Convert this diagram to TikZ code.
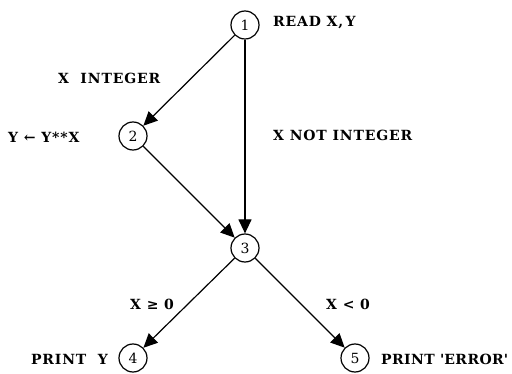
\documentclass[tikz,border=0pt]{standalone}
\usepackage{fontspec}
\setmainfont{DejaVu Serif}
\newfontfamily\labelfont{DejaVu Serif}[LetterSpace=6]
\newfontfamily\edgelabelfont{DejaVu Serif}[LetterSpace=3]
\usetikzlibrary{arrows.meta}
\begin{document}
\begin{tikzpicture}[x=1pt,y=-1pt,
  state/.style={circle,draw,line width=1.2pt,minimum size=28pt,inner sep=0pt,font=\fontsize{14}{14}\selectfont},
  lbl/.style={font=\labelfont\bfseries\fontsize{14}{14}\selectfont,inner sep=0pt},
  flow/.style={line width=1.2pt,-{Triangle[length=14pt,width=13pt]}}]
\useasboundingbox (0,0) rectangle (512,374);
\node[state] (n1) at (245,25) {1};
\node[state] (n2) at (133,136) {2};
\node[state] (n3) at (245,248) {3};
\node[state] (n4) at (133,358) {4};
\node[state] (n5) at (355,358) {5};
\node[lbl,anchor=west] (t1) at (273,23) {READ X,\,Y};
\node[lbl,anchor=west] (t2) at (58,78) {X\ \ INTEGER};
\node[lbl,anchor=west] (t3) at (8,137) {Y ← Y**X};
\node[lbl,anchor=west] (t4) at (273,135) {X\ NOT INTEGER};
\node[lbl,anchor=west] (t5) at (130,304) {X ≥ 0};
\node[lbl,anchor=west] (t6) at (326,304) {X < 0};
\node[lbl,anchor=east] (t7) at (108,359) {PRINT\ \ Y};
\node[lbl,anchor=west,font=\edgelabelfont\bfseries\fontsize{14}{14}\selectfont] (t8) at (381,359) {PRINT \textquotesingle ERROR\textquotesingle};
\draw[flow] (n1) -- (n2);
\draw[flow] (n1) -- (n3);
\draw[flow] (n2) -- (n3);
\draw[flow] (n3) -- (n4);
\draw[flow] (n3) -- (n5);
\end{tikzpicture}
\end{document}
